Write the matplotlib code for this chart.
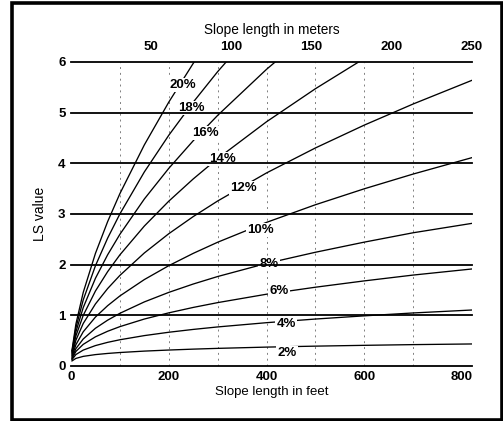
#!/usr/bin/env python
# -*- coding: utf-8 -*-
"""
LS value vs. slope length, one curve per slope steepness.
"""

import matplotlib
matplotlib.use("Agg")
import matplotlib.pyplot as plt
from matplotlib.patches import Rectangle


### Data
slope_ft = [2, 10, 25, 50, 75, 100, 150, 200, 250, 300, 400, 500, 600, 700, 820]

ls_2 = [0.10, 0.15, 0.19, 0.225, 0.248, 0.266, 0.294, 0.315, 0.333, 0.348, 0.373, 0.392, 0.408, 0.422, 0.435]
ls_4 = [0.126, 0.226, 0.314, 0.403, 0.467, 0.518, 0.600, 0.666, 0.722, 0.771, 0.855, 0.927, 0.990, 1.047, 1.105]
ls_6 = [0.143, 0.287, 0.427, 0.576, 0.686, 0.777, 0.927, 1.049, 1.156, 1.251, 1.417, 1.555, 1.680, 1.795, 1.915]
ls_8 = [0.158, 0.343, 0.533, 0.745, 0.905, 1.040, 1.265, 1.453, 1.618, 1.766, 2.025, 2.245, 2.445, 2.630, 2.815]
ls_10 = [0.182, 0.420, 0.675, 0.966, 1.191, 1.383, 1.706, 1.980, 2.223, 2.443, 2.835, 3.183, 3.498, 3.789, 4.112]
ls_12 = [0.212, 0.509, 0.839, 1.225, 1.529, 1.788, 2.231, 2.611, 2.949, 3.257, 3.811, 4.304, 4.755, 5.172, 5.638]
ls_14 = [0.238, 0.593, 0.999, 1.480, 1.863, 2.194, 2.762, 3.253, 3.692, 4.095, 4.821, 5.473, 6.070, 6.625, 7.248]
ls_16 = [0.263, 0.674, 1.153, 1.731, 2.196, 2.599, 3.296, 3.901, 4.446, 4.947, 5.856, 6.674, None, None, None]
ls_18 = [0.286, 0.752, 1.304, 1.979, 2.525, 3.002, 3.830, 4.554, 5.207, 5.810, 6.908, None, None, None, None]
ls_20 = [0.308, 0.827, 1.452, 2.223, 2.851, 3.402, 4.364, 5.208, 5.973, 6.680, None, None, None, None, None]

curves = [ls_2, ls_4, ls_6, ls_8, ls_10, ls_12, ls_14, ls_16, ls_18, ls_20]
curve_names = ["2%", "4%", "6%", "8%", "10%", "12%", "14%", "16%", "18%", "20%"]

# where each name sits on its curve (feet, LS)
label_x = [442, 440, 425, 405, 387, 352, 309, 274, 247, 229]
label_y = [0.26, 0.83, 1.48, 2.01, 2.68, 3.51, 4.09, 4.60, 5.09, 5.55]

feet_ticks = [0, 200, 400, 600, 800]
meter_ticks = [50, 100, 150, 200, 250]
ls_ticks = [0, 1, 2, 3, 4, 5, 6]
dashed_ft = [100, 200, 300, 400, 500, 600, 700]


def main():
    fig = plt.figure(figsize=(5.03, 4.21), dpi=100)
    ax = fig.add_axes([71/503, 1 - 366/421, 401/503, 304/421])

    xmax = 250 / 0.3048
    ax.set_xlim(0, xmax)
    ax.set_ylim(0, 6)

    ### Grid
    for v in dashed_ft:
        ax.axvline(v, color="0.5", lw=0.7, dashes=(2, 4), zorder=1)
    for v in ls_ticks:
        ax.axhline(v, color="black", lw=1.3, zorder=4, clip_on=False)

    ### Curves
    for vals, name, lx, ly in zip(curves, curve_names, label_x, label_y):
        xs = [x for x, y in zip(slope_ft, vals) if y is not None]
        ys = [y for y in vals if y is not None]
        ax.plot(xs, ys, color="black", lw=0.95, zorder=2)
        ax.text(lx, ly, name, ha="center", va="center", fontsize=9.5,
                fontweight="bold", family="Liberation Sans", zorder=3,
                bbox=dict(facecolor="white", edgecolor="none", pad=0.9))

    for s in ax.spines.values():
        s.set_visible(False)

    ax.set_xticks(feet_ticks)
    ax.set_yticks(ls_ticks)
    ax.tick_params(axis="both", length=0, labelsize=9.5)
    ax.tick_params(axis="x", pad=3.5)
    ax.tick_params(axis="y", pad=4)
    for lab in ax.get_xticklabels() + ax.get_yticklabels():
        lab.set_family("Liberation Sans")
        lab.set_fontweight("bold")

    ax.set_xlabel("Slope length in feet", fontsize=9.5,
                  family="Liberation Sans", labelpad=2)
    ax.set_ylabel("LS value", fontsize=10, family="Liberation Sans")
    ax.yaxis.set_label_coords(-0.06, 0.5)

    ### Top axis in meters
    top = ax.secondary_xaxis("top", functions=(lambda f: f * 0.3048,
                                               lambda m: m / 0.3048))
    top.set_xticks(meter_ticks)
    top.tick_params(length=0, labelsize=9.5, pad=6.5)
    for lab in top.get_xticklabels():
        lab.set_family("Liberation Sans")
        lab.set_fontweight("bold")
    top.spines["top"].set_visible(False)
    top.set_xlabel("Slope length in meters", fontsize=9.8,
                   family="Liberation Sans", labelpad=5)

    ### Frame round the whole figure
    fig.patches.append(Rectangle((12/503, 1.5/421), 489.5/503, 417/421,
                                 transform=fig.transFigure, fill=False,
                                 edgecolor="black", lw=2.6))

    fig.savefig("out.png", dpi=100)


if __name__ == "__main__":
    main()
